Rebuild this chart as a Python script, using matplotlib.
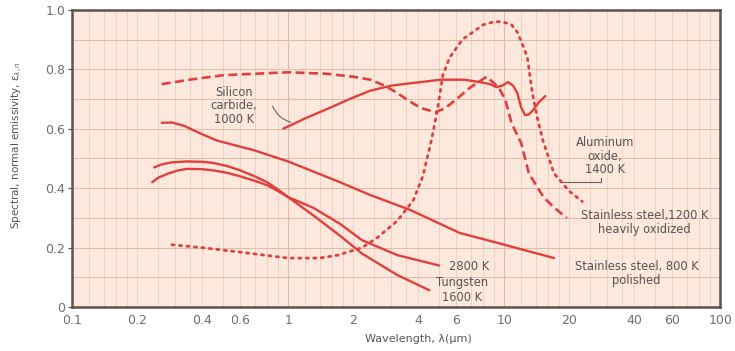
import matplotlib
matplotlib.use("Agg")
import matplotlib.pyplot as plt
from matplotlib.ticker import FixedLocator, NullFormatter

# ---- data ----
sic_x = [0.95, 1.2, 1.5, 2.0, 2.4, 3.0, 4.1, 5.1, 6.5, 7.7, 8.6, 9.2, 9.8, 10.4, 11.0, 11.5, 12.0, 12.5, 13.0, 13.5, 14.5, 15.5]
sic_y = [0.60, 0.635, 0.665, 0.705, 0.728, 0.745, 0.757, 0.765, 0.765, 0.757, 0.75, 0.74, 0.745, 0.757, 0.745, 0.72, 0.67, 0.646, 0.648, 0.66, 0.69, 0.71]

ss1200_x = [0.26, 0.35, 0.5, 0.7, 1.0, 1.5, 2.0, 2.4, 2.8, 3.2, 3.6, 4.1, 4.8, 5.3, 5.8, 7.0, 8.3, 9.4, 10.1, 10.8, 12.0, 13.0, 15.2, 17.0, 19.5]
ss1200_y = [0.75, 0.765, 0.78, 0.785, 0.79, 0.785, 0.775, 0.765, 0.745, 0.72, 0.695, 0.67, 0.656, 0.668, 0.69, 0.74, 0.775, 0.74, 0.70, 0.62, 0.55, 0.45, 0.37, 0.335, 0.30]

alox_x = [0.29, 0.4, 0.6, 1.0, 1.4, 1.7, 2.2, 2.6, 3.2, 3.8, 4.2, 4.6, 4.9, 5.2, 5.6, 6.4, 7.0, 8.0, 9.0, 9.8, 10.8, 11.5, 12.2, 12.8, 13.5, 14.3, 15.1, 17.0, 20.0, 23.0]
alox_y = [0.21, 0.20, 0.185, 0.165, 0.165, 0.175, 0.20, 0.235, 0.29, 0.36, 0.44, 0.56, 0.66, 0.78, 0.84, 0.90, 0.92, 0.95, 0.96, 0.96, 0.95, 0.925, 0.88, 0.84, 0.72, 0.63, 0.56, 0.45, 0.39, 0.355]

ss800_x = [0.26, 0.29, 0.33, 0.39, 0.47, 0.7, 1.0, 1.74, 2.4, 3.67, 6.2, 10.0, 17.0]
ss800_y = [0.62, 0.621, 0.61, 0.585, 0.56, 0.527, 0.49, 0.42, 0.377, 0.327, 0.25, 0.21, 0.165]

w1600_x = [0.24, 0.26, 0.29, 0.34, 0.4, 0.45, 0.52, 0.6, 0.7, 0.8, 0.9, 1.0, 1.3, 1.74, 2.2, 3.2, 4.5]
w1600_y = [0.47, 0.48, 0.487, 0.49, 0.489, 0.485, 0.475, 0.46, 0.44, 0.42, 0.395, 0.37, 0.31, 0.24, 0.18, 0.108, 0.057]

w2800_x = [0.235, 0.25, 0.28, 0.31, 0.34, 0.4, 0.45, 0.52, 0.6, 0.7, 0.8, 0.9, 1.0, 1.3, 1.74, 2.2, 3.2, 5.0]
w2800_y = [0.42, 0.435, 0.45, 0.46, 0.465, 0.464, 0.46, 0.452, 0.44, 0.425, 0.41, 0.39, 0.37, 0.335, 0.28, 0.225, 0.175, 0.14]

xticks = [0.1, 0.2, 0.4, 0.6, 1, 2, 4, 6, 10, 20, 40, 60, 100]
xticklabels = ["0.1", "0.2", "0.4", "0.6", "1", "2", "4", "6", "10", "20", "40", "60", "100"]
yticks = [0, 0.2, 0.4, 0.6, 0.8, 1.0]
yticklabels = ["0", "0.2", "0.4", "0.6", "0.8", "1.0"]

# ---- style ----
RED = "#e0403c"
BG = "#fde8dd"
GRID = "#ebcdbd"
GRID2 = "#dfbcaa"
TXT = "#555555"

fig = plt.figure(figsize=(7.35, 3.51), dpi=100)
ax = fig.add_axes([0.098, 0.125, 0.882, 0.847])
ax.set_facecolor(BG)
ax.set_xscale("log")
ax.set_xlim(0.1, 100)
ax.set_ylim(0, 1.0)

# graph-paper grid
minor = []
for dec in [0.1, 1, 10]:
    for s in [1.2, 1.4, 1.6, 1.8, 2, 2.5, 3, 3.5, 4, 5, 6, 7, 8, 9]:
        minor.append(dec * s)
for v in minor:
    ax.axvline(v, color=GRID, lw=0.6, zorder=0)
for v in [1, 10]:
    ax.axvline(v, color=GRID2, lw=0.8, zorder=0)
for v in [0.1, 0.2, 0.3, 0.4, 0.5, 0.6, 0.7, 0.8, 0.9]:
    ax.axhline(v, color=GRID2, lw=0.7, zorder=0)

lw = 1.7
ax.plot(sic_x, sic_y, color=RED, lw=lw, solid_capstyle="round", solid_joinstyle="round", zorder=3)
ax.plot(ss1200_x, ss1200_y, color=RED, lw=lw + 0.2, ls=(0, (3.4, 1.7)), zorder=3)
ax.plot(alox_x, alox_y, color=RED, lw=lw + 0.3, ls=(0, (0.8, 1.9)), dash_capstyle="round", zorder=3)
ax.plot(ss800_x, ss800_y, color=RED, lw=lw, solid_capstyle="round", solid_joinstyle="round", zorder=3)
ax.plot(w1600_x, w1600_y, color=RED, lw=lw, solid_capstyle="round", solid_joinstyle="round", zorder=3)
ax.plot(w2800_x, w2800_y, color=RED, lw=lw, solid_capstyle="round", solid_joinstyle="round", zorder=3)

ax.xaxis.set_major_locator(FixedLocator(xticks))
ax.set_xticklabels(xticklabels)
ax.xaxis.set_minor_formatter(NullFormatter())
ax.tick_params(axis="x", which="both", length=0, pad=5, labelsize=9, labelcolor="#6e6e6e")
ax.set_yticks(yticks)
ax.set_yticklabels(yticklabels)
ax.tick_params(axis="y", length=3, width=0.8, color="#555", pad=2, labelsize=9, labelcolor="#6e6e6e")

for sp in ax.spines.values():
    sp.set_color("#5b534d")
    sp.set_linewidth(1.8)

ax.set_xlabel("Wavelength, λ(μm)", fontsize=8, color=TXT, labelpad=3)
ax.xaxis.set_label_coords(0.535, -0.09)
ax.set_ylabel(r"Spectral, normal emissivity, ε$_{\lambda,n}$", fontsize=7.5, color=TXT, labelpad=6)
ax.yaxis.set_label_coords(-0.072, 0.545)

fs = 8.3
ax.text(0.56, 0.677, "Silicon\ncarbide,\n1000 K", fontsize=fs, color=TXT, ha="center", va="center", linespacing=1.05)
ax.annotate("", xy=(1.06, 0.62), xytext=(0.84, 0.685),
            arrowprops=dict(arrowstyle="-", color="#666", lw=0.8, connectionstyle="arc3,rad=0.3"))
ax.text(29.3, 0.508, "Aluminum\noxide,\n1400 K", fontsize=fs, color=TXT, ha="center", va="center", linespacing=1.05)
ax.plot([18.3, 28.0, 28.0], [0.42, 0.42, 0.435], color="#666", lw=0.8, zorder=4)
ax.text(44.7, 0.286, "Stainless steel,1200 K\nheavily oxidized", fontsize=fs, color=TXT, ha="center", va="center", linespacing=1.1)
ax.text(41.0, 0.113, "Stainless steel, 800 K\npolished", fontsize=fs, color=TXT, ha="center", va="center", linespacing=1.1)
ax.text(6.9, 0.135, "2800 K", fontsize=fs, color=TXT, ha="center", va="center")
ax.text(6.4, 0.084, "Tungsten", fontsize=fs, color=TXT, ha="center", va="center")
ax.text(6.4, 0.034, "1600 K", fontsize=fs, color=TXT, ha="center", va="center")

fig.savefig("out.png", dpi=100)
